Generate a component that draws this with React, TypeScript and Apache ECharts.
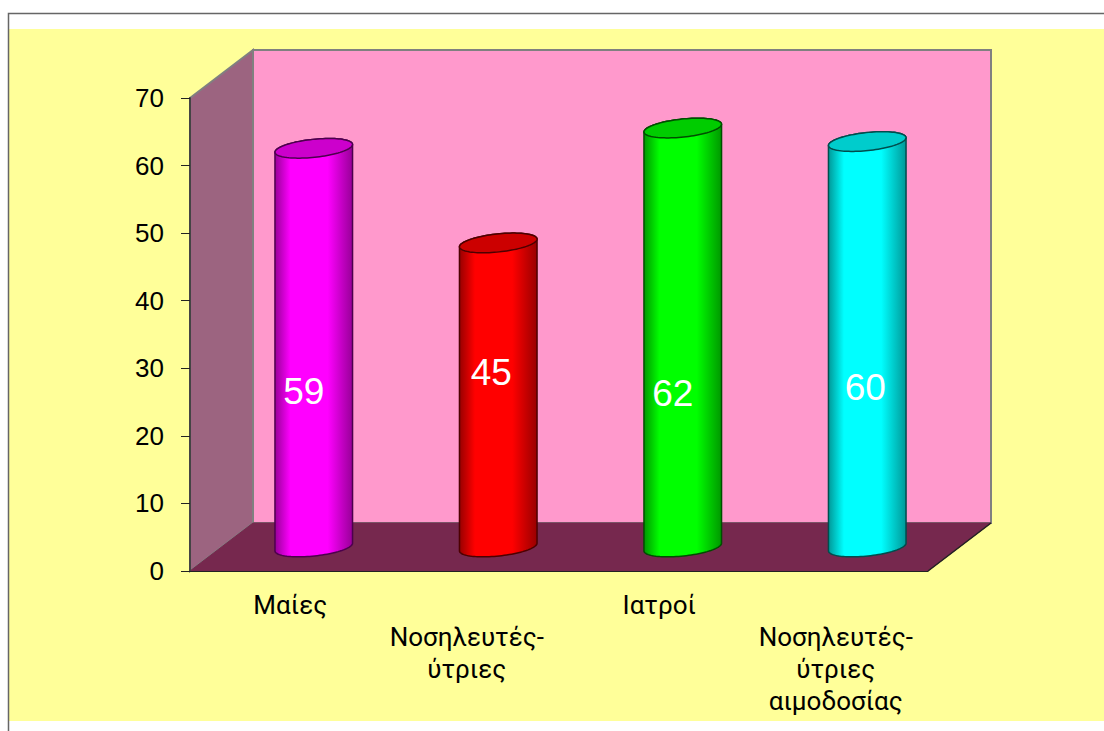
import React, { useEffect, useRef } from "react";
import * as echarts from "echarts";

const categories = [
  { value: "Μαίες", textStyle: { padding: [0, 0, 0, 16] } },
  { value: "Νοσηλευτές-\nύτριες", textStyle: { padding: [32, 0, 0, 0] } },
  { value: "Ιατροί", textStyle: { padding: [0, 0, 0, 16] } },
  { value: "Νοσηλευτές-\nύτριες\nαιμοδοσίας", textStyle: { padding: [32, 0, 0, 0] } },
];
const values = [59, 45, 62, 60];
const yTicks = { min: 0, max: 70, interval: 10 };

// body gradient stops and cap shade for each cylinder
const palette = [
  { edge: "#980098", mid: "#ff00ff", cap: "#cc00cc", line: "#4d004d" },
  { edge: "#980000", mid: "#ff0000", cap: "#cc0000", line: "#4d0000" },
  { edge: "#009800", mid: "#00ff00", cap: "#00cc00", line: "#004d00" },
  { edge: "#009898", mid: "#00ffff", cap: "#00cccc", line: "#004d4d" },
];
// hand placement of the value captions relative to each cylinder's middle
const captionNudge = [
  [-10, 44],
  [-7, -22],
  [-10, 56],
  [-2, 43],
];

const DEPTH_X = 63;
const DEPTH_Y = 48;
const RX = 39;
const RY = 9;
const TILT = (-6 * Math.PI) / 180;

// point on the tilted ellipse at parameter t around (cx, cy)
function ellipsePoint(cx: number, cy: number, t: number) {
  const px = RX * Math.cos(t);
  const py = RY * Math.sin(t);
  return [
    cx + px * Math.cos(TILT) - py * Math.sin(TILT),
    cy + px * Math.sin(TILT) + py * Math.cos(TILT),
  ];
}

function ellipseArc(cx: number, cy: number, from: number, to: number, steps = 48) {
  const pts: number[][] = [];
  for (let k = 0; k <= steps; k++) {
    pts.push(ellipsePoint(cx, cy, from + ((to - from) * k) / steps));
  }
  return pts;
}

function renderRoom(_: any, api: any) {
  const [x0, y0] = api.coord([0, 0]);
  const size = api.size([1, 0]);
  const top = api.coord([0, 70])[1];
  const left = x0 - size[0] / 2;
  const right = left + 4 * size[0];
  const dx = DEPTH_X;
  const dy = DEPTH_Y;
  const stroke = "#808080";
  return {
    type: "group",
    silent: true,
    children: [
      {
        type: "rect",
        shape: { x: left + dx, y: top - dy, width: right - left, height: y0 - top },
        style: { fill: "#ff99cc", stroke, lineWidth: 2 },
      },
      {
        type: "polygon",
        shape: {
          points: [
            [left, top],
            [left + dx, top - dy],
            [left + dx, y0 - dy],
            [left, y0],
          ],
        },
        style: { fill: "#9c6480", stroke, lineWidth: 2 },
      },
      {
        type: "polygon",
        shape: {
          points: [
            [left, y0],
            [left + dx, y0 - dy],
            [right + dx, y0 - dy],
            [right, y0],
          ],
        },
        style: { fill: "#76284e", stroke: "#76284e", lineWidth: 1 },
      },
      {
        type: "line",
        shape: { x1: right, y1: y0, x2: right + dx, y2: y0 - dy },
        style: { stroke: "#222222", lineWidth: 1.5 },
      },
    ],
  };
}

function renderCylinder(params: any, api: any) {
  const i = params.dataIndex;
  const base = api.coord([api.value(0), 0]);
  const head = api.coord([api.value(0), api.value(1)]);
  const cx = base[0] + DEPTH_X / 2;
  const by = base[1] - DEPTH_Y / 2;
  const ty = head[1] - DEPTH_Y / 2;
  const body = [
    ...ellipseArc(cx, by, Math.PI, 0),
    ...ellipseArc(cx, ty, 0, -Math.PI),
  ];
  const cap = ellipseArc(cx, ty, 0, Math.PI * 2, 96);
  const c = palette[i];
  const nudge = captionNudge[i];
  return {
    type: "group",
    children: [
      {
        type: "polygon",
        shape: { points: body },
        style: {
          fill: new echarts.graphic.LinearGradient(0, 0, 1, 0, [
            { offset: 0, color: c.edge },
            { offset: 0.2, color: c.mid },
            { offset: 0.68, color: c.mid },
            { offset: 1, color: c.edge },
          ]),
          stroke: c.line,
          lineWidth: 1.5,
        },
      },
      {
        type: "polygon",
        shape: { points: cap },
        style: { fill: c.cap, stroke: c.line, lineWidth: 1.5 },
      },
      {
        type: "text",
        style: {
          text: String(api.value(1)),
          x: cx + nudge[0],
          y: (by + ty) / 2 + nudge[1],
          align: "center",
          verticalAlign: "middle",
          fill: "#ffffff",
          fontSize: 37,
          fontFamily: "Liberation Sans",
        },
      },
    ],
  };
}

export default function App() {
  const ref = useRef<HTMLDivElement>(null);
  useEffect(() => {
    const chart = echarts.init(ref.current!, null, { renderer: "svg" });
    chart.setOption({
      animation: false,
      backgroundColor: "#ffffff",
      graphic: [
        {
          type: "rect",
          z: -10,
          shape: { x: 9, y: 29, width: 1095, height: 692 },
          style: { fill: "#ffff99" },
        },
        {
          type: "polyline",
          z: -9,
          shape: { points: [[8.5, 731], [8.5, 13.5], [1104, 13.5]] },
          style: { stroke: "#666666", lineWidth: 1.5, fill: "none" },
        },
      ],
      grid: { left: 190, right: 176, top: 98, bottom: 160 },
      xAxis: {
        type: "category",
        data: categories,
        z: 5,
        axisLine: { lineStyle: { color: "#222222", width: 1 } },
        axisTick: { length: 9, lineStyle: { color: "#222222" } },
        axisLabel: {
          interval: 0,
          margin: 18,
          color: "#000000",
          fontSize: 26,
          lineHeight: 32,
          fontFamily: "Roboto",
          verticalAlign: "top",
        },
      },
      yAxis: {
        type: "value",
        ...yTicks,
        z: 5,
        splitLine: { show: false },
        axisLine: { show: true, lineStyle: { color: "#444444", width: 2 } },
        axisTick: { show: true, length: 9, lineStyle: { color: "#222222" } },
        axisLabel: {
          margin: 26,
          color: "#000000",
          fontSize: 26,
          fontFamily: "Liberation Sans",
        },
      },
      series: [
        {
          type: "custom",
          z: 1,
          clip: false,
          silent: true,
          data: [[0, 0]],
          renderItem: renderRoom,
          encode: { x: 0, y: 1 },
        },
        {
          type: "custom",
          z: 3,
          clip: false,
          data: values.map((v, i) => [i, v]),
          renderItem: renderCylinder,
          encode: { x: 0, y: 1 },
        },
      ],
    });
    return () => chart.dispose();
  }, []);
  return (
    <div
      ref={ref}
      style={{ position: "fixed", left: 0, top: 0, width: 1104, height: 731 }}
    />
  );
}
